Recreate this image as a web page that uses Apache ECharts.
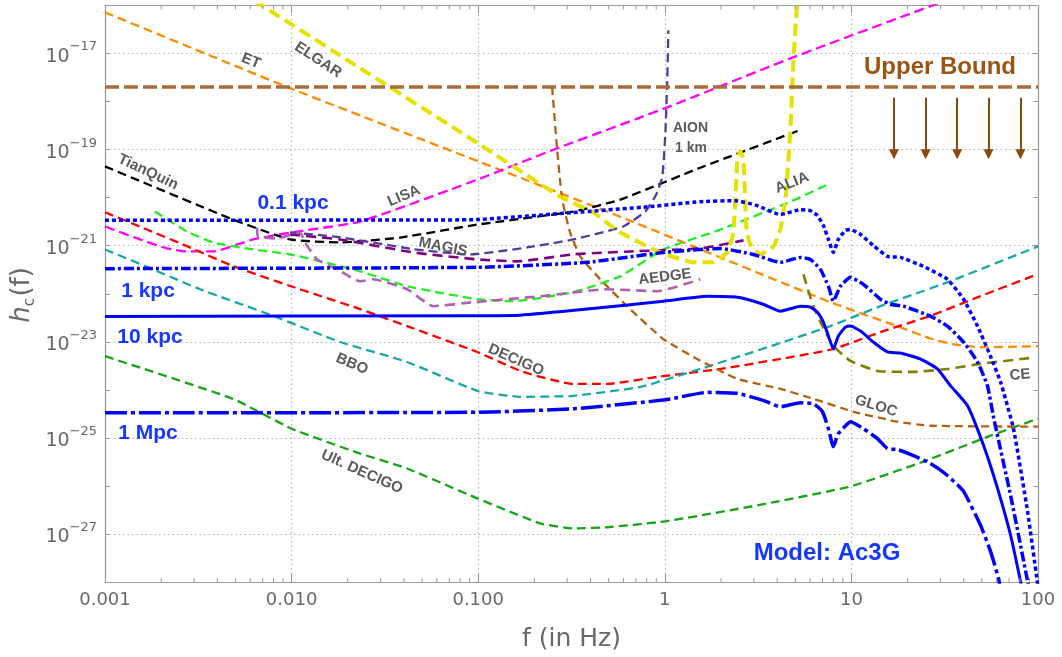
<!DOCTYPE html>
<html><head><meta charset="utf-8">
<script src="https://cdn.jsdelivr.net/npm/echarts@6/dist/echarts.min.js"></script>
<style>html,body{margin:0;padding:0;background:#fff}#c{width:1062px;height:657px}</style>
</head><body><div id="c"></div><script>
// ---------- data (f in Hz, h_c) ----------
const X_TICK_LABELS = ['0.001','0.010','0.100','1','10','100'];
const Y_LABEL_EXPONENTS = [-27,-25,-23,-21,-19,-17];
const UPPER_BOUND = [[0.001,2e-18],[100,2e-18]];
const ARROW_F = [16.9,25,36.9,54.3,80.5];
const ARROW_H = [1.2e-18,8e-20];

const ET = [[0.001,7.2e-17],[0.0095,2.0e-18],[0.131,3.8e-20],[0.63,3.5e-21],[7.7,6.7e-23],[17.7,2.1e-23],[26.5,1.17e-23],[35,8.9e-24],[49,7.7e-24],[100,8.1e-24]];
const ELGAR = [[6.32e-3,1.26e-16],[0.0233,4.95e-18],[0.0989,1.38e-19],[0.275,1.05e-20],[0.414,4.9e-21],[0.577,1.88e-21],[0.946,7.24e-22],[1.42,4.5e-22],[1.82,4.5e-22],[2.16,7.24e-22],[2.33,1.88e-21],[2.45,6.2e-20],[2.54,9.4e-20],[2.64,6.2e-20],[2.74,2.19e-21],[2.87,1.07e-21],[3.25,6.6e-22],[3.82,9.66e-22],[4.16,2.17e-21],[4.43,9.1e-21],[4.71,2.57e-19],[4.89,7.24e-18],[5.13,1.26e-16]];
const LISA = [[0.001,2.51e-21],[1.54e-3,1.35e-21],[2.15e-3,8.77e-22],[2.75e-3,7.6e-22],[3.79e-3,7.6e-22],[6.22e-3,1.35e-21],[9.82e-3,1.88e-21],[0.0233,3.18e-21],[0.0989,2.37e-20],[0.252,9.9e-20],[1.007,7.33e-19],[4.71,7.94e-18],[31.8,1.26e-16]];
const TIANQIN = [[0.001,4.47e-20],[4.85e-3,3.51e-21],[9.82e-3,1.35e-21],[0.0182,1.17e-21],[0.0382,1.48e-21],[0.0989,2.75e-21],[0.323,5.13e-21],[0.577,9.12e-21],[1.55,4.2e-20],[5.33,2.57e-19]];
const DECIGO = [[0.001,4.97e-21],[1.68e-3,2.17e-21],[2.75e-3,9.8e-22],[4.85e-3,3.77e-22],[9.82e-3,1.45e-22],[0.0233,4.79e-23],[0.0416,2.12e-23],[0.0989,6.12e-24],[0.174,2.36e-24],[0.323,1.33e-24],[0.492,1.33e-24],[0.912,1.86e-24],[1.99,2.72e-24],[4.16,4.39e-24],[8.0,7.08e-24],[14.3,1.59e-23],[26.5,3.47e-23],[49.2,8.91e-23],[100,2.57e-22]];
const BBO = [[0.001,8.36e-22],[1.81e-3,3.21e-22],[3.23e-3,1.24e-22],[7.96e-3,3.47e-23],[0.0182,9.89e-24],[0.0416,3.8e-24],[0.0989,9.55e-25],[0.168,7.16e-25],[0.323,7.5e-25],[0.74,1.15e-24],[1.55,2.72e-24],[4.16,9.42e-24],[7.71,2.12e-23],[14.3,5.51e-23],[32.7,1.73e-22],[100,9.66e-22]];
const ULT_DECIGO = [[0.001,5.01e-24],[4.85e-3,6.5e-25],[0.01,1.55e-25],[0.0233,4.71e-26],[0.0416,2.3e-26],[0.0989,5.5e-27],[0.215,1.66e-27],[0.323,1.31e-27],[0.492,1.38e-27],[1.007,1.83e-27],[3.13,3.94e-27],[9.89,9.77e-27],[24.3,3.21e-26],[55.6,1.11e-25],[100,2.51e-25]];
const GLOC = [[0.249,2.0e-18],[0.265,9.86e-20],[0.282,9.12e-21],[0.311,1.88e-21],[0.352,6.03e-22],[0.451,2.0e-22],[0.653,4.76e-23],[0.982,1.14e-23],[1.49,4.39e-24],[2.45,1.69e-24],[4.16,1.05e-24],[6.25,6.5e-25],[10.3,3.49e-25],[17.7,2.17e-25],[26.5,1.79e-25],[100,1.71e-25]];
const CE = [[5.53,2.54e-22],[6.25,5.51e-23],[7.0,2.12e-23],[8.0,8.17e-24],[9.89,3.99e-24],[13.8,2.47e-24],[21.5,2.36e-24],[32.7,2.72e-24],[49.2,3.47e-24],[91.2,4.6e-24]];
const ALIA = [[1.85e-3,5.13e-21],[2.75e-3,1.98e-21],[3.79e-3,1.17e-21],[6.22e-3,8.38e-22],[9.82e-3,6.61e-22],[0.0167,4.09e-22],[0.0233,2.93e-22],[0.0416,1.43e-22],[0.0989,7.69e-23],[0.154,7.0e-23],[0.323,1.08e-22],[0.577,2.3e-22],[0.982,8.36e-22],[1.99,2.17e-21],[4.71,8.26e-21],[7.43,1.86e-20]];
const MAGIS = [[9.82e-3,1.71e-21],[0.0182,1.35e-21],[0.0448,7.24e-22],[0.0989,5.19e-22],[0.162,4.72e-22],[0.323,6.61e-22],[0.653,7.6e-22],[1.55,8.77e-22],[2.64,1.29e-21]];
const AION = [[0.0098,1.9e-21],[0.0182,1.5e-21],[0.0448,8.5e-22],[0.0906,6.58e-22],[0.183,9.2e-22],[0.323,1.35e-21],[0.598,2.51e-21],[0.785,5.13e-21],[0.9,1.16e-20],[0.97,2.73e-20],[1.007,2.24e-19],[1.03,2.42e-18],[1.045,3.04e-17]];
const AEDGE = [[6.53e-3,2.39e-21],[6.61e-3,1.56e-21],[8.36e-3,1.42e-21],[0.0111,1.88e-21],[0.0118,1.17e-21],[0.0137,5.19e-22],[0.0175,3.22e-22],[0.0233,1.82e-22],[0.0274,2.0e-22],[0.0416,1.24e-22],[0.0574,5.51e-23],[0.094,6.67e-23],[0.215,8.87e-23],[0.492,1.24e-22],[0.912,1.13e-22],[1.55,2.0e-22]];

const AC3G_01KPC = [[0.001,3.39e-21],[0.0382,3.42e-21],[0.0989,3.5e-21],[0.323,4.9e-21],[0.836,6.52e-21],[1.55,8.26e-21],[2.39,8.67e-21],[3.13,6.83e-21],[4.16,4.45e-21],[5.33,5.64e-21],[6.03,5.38e-21],[6.58,4.24e-21],[7.08,2.63e-21],[7.53,1.35e-21],[8.0,7.24e-22],[8.51,1.35e-21],[9.29,2.07e-21],[9.89,2.17e-21],[11.2,1.71e-21],[13.1,1.01e-21],[15.6,6.0e-22],[18.3,5.71e-22],[24.3,3.72e-22],[32.7,2.0e-22],[39.9,7.67e-23],[47.4,2.12e-23],[55.6,5.06e-24],[63.0,1.46e-24],[73.9,1.55e-25],[87.9,2.95e-27],[100,7.9e-29]];
const AC3G_1KPC = [[0.001,3.33e-22],[0.0989,3.55e-22],[0.384,4.5e-22],[0.982,7.24e-22],[1.99,8.77e-22],[2.98,6.58e-22],[4.16,4.5e-22],[5.33,5.71e-22],[6.03,5.19e-22],[6.82,3.22e-22],[7.53,1.43e-22],[8.0,7.0e-23],[8.73,1.43e-22],[9.89,2.2e-22],[11.6,1.57e-22],[14.3,7.69e-23],[16.2,6.05e-23],[19.0,5.51e-23],[26.5,3.42e-23],[32.7,2.12e-23],[39.9,9.89e-24],[47.4,3.8e-24],[53.6,1.21e-24],[57.7,2.75e-25],[71.3,6.34e-27],[87.9,1.05e-28],[91.2,4.7e-29]];
const AC3G_10KPC = [[0.001,3.37e-23],[0.0989,3.5e-23],[0.168,3.58e-23],[0.384,4.79e-23],[0.982,7.0e-23],[1.69,8.87e-23],[2.45,8.45e-23],[3.37,6.05e-23],[4.16,4.34e-23],[5.33,5.51e-23],[6.03,5.25e-23],[6.58,4.13e-23],[7.08,2.57e-23],[7.53,1.32e-23],[8.0,7.08e-24],[8.51,1.32e-23],[9.29,2.02e-23],[9.89,2.12e-23],[11.2,1.67e-23],[13.1,9.89e-24],[15.6,6.14e-24],[18.3,5.85e-24],[23.4,4.39e-24],[28.9,2.72e-24],[34.0,1.21e-24],[41.9,4.67e-25],[51.1,6.92e-26],[60.7,8.87e-27],[71.3,9.4e-28],[80.5,1.05e-28],[83.6,4.7e-29]];
const AC3G_1MPC = [[0.001,3.33e-25],[0.0989,3.41e-25],[0.323,4.04e-25],[1.007,6.2e-25],[1.69,8.87e-25],[2.45,8.45e-25],[3.37,6.05e-25],[4.16,4.44e-25],[5.33,5.37e-25],[6.25,5.13e-25],[7.0,3.5e-25],[7.53,1.55e-25],[8.0,6.58e-26],[8.51,1.22e-25],[9.53,1.97e-25],[9.89,2.17e-25],[11.6,1.55e-25],[13.8,9.64e-26],[15.6,5.98e-26],[17.7,5.71e-26],[21.5,4.29e-26],[26.5,2.92e-26],[32.7,1.65e-26],[39.9,7.69e-27],[49.2,1.52e-27],[55.6,4.4e-28],[61.4,1.21e-28],[63.0,6.8e-29]];

// ---------- helpers ----------
const X_MIN=-3, X_MAX=2, Y_MIN=-28, Y_MAX=-16;
const lg = v => Math.log10(v);
const toLog = pts => pts.map(([f,h]) => [lg(f), lg(h)]);
const FONT = '"Liberation Sans", Arial, Helvetica, sans-serif';
const AXFONT = '"DejaVu Sans", sans-serif';
const AXIS_COLOR = '#9a9a9a';
const TEXT_COLOR = '#686868';
const LABEL_GRAY = '#5a5a5a';
const BLUE = '#0000ff';
const BLUE_TEXT = '#1438ff';

function curve(name, pts, color, width, type, extra) {
  return Object.assign({
    name, type: 'line', data: toLog(pts), showSymbol: false, symbol: 'none',
    smooth: 0.15, silent: true, animation: false, z: 3,
    lineStyle: { color, width, type, cap: 'butt', join: 'round' }
  }, extra || {});
}

// minor x ticks at 2..9 x decade
const MINOR_X = [];
for (let d = X_MIN; d < X_MAX; d++) for (let k = 2; k <= 9; k++) MINOR_X.push(d + Math.log10(k));

const xLabelMap = {}; X_TICK_LABELS.forEach((t,i)=>{ xLabelMap[X_MIN+i] = t; });

const series = [
  curve('Upper Bound', UPPER_BOUND, '#a86c3a', 3.5, [14,5], {smooth:false, z:4,
    markLine: { silent: true, animation: false, symbol: ['none','triangle'], symbolSize: [10, 10],
      lineStyle: { color: '#8b4a0c', width: 2, type: 'solid' }, label: { show: false },
      data: ARROW_F.map(f => [{coord: [lg(f), lg(ARROW_H[0])]}, {coord: [lg(f), lg(ARROW_H[1])]}]) }}),
  curve('ET', ET, '#ff8a00', 2.3, [9,5]),
  curve('LISA', LISA, '#ff00ff', 2.3, [10,5]),
  curve('TianQuin', TIANQIN, '#000000', 2.3, [9,5]),
  curve('DECIGO', DECIGO, '#ff0000', 2.3, [9,5]),
  curve('BBO', BBO, '#18a8a8', 2.3, [9,5]),
  curve('Ult. DECIGO', ULT_DECIGO, '#16a316', 2.3, [9,5]),
  curve('GLOC', GLOC, '#b3600f', 2.3, [8,5]),
  curve('CE', CE, '#808000', 2.6, [10,6]),
  curve('ALIA', ALIA, '#22ee22', 2.3, [9,5]),
  curve('MAGIS', MAGIS, '#800080', 2.6, [10,6]),
  curve('AION', AION, '#553c9a', 2.3, [9,5]),
  curve('AEDGE', AEDGE, '#b060b0', 2.6, [10,6]),
  curve('ELGAR', ELGAR, '#e6e200', 4, [12,6], {smooth: 0.12}),
  curve('0.1 kpc', AC3G_01KPC, BLUE, 3.5, [4,3], {z:5}),
  curve('1 kpc', AC3G_1KPC, BLUE, 3.5, [10,3,3,3], {z:5}),
  curve('10 kpc', AC3G_10KPC, BLUE, 3, 'solid', {z:5}),
  curve('1 Mpc', AC3G_1MPC, BLUE, 3.5, [22,4,4,4], {z:5}),
  { type: 'custom', silent: true, clip: false, z: 6, animation: false,
    data: MINOR_X.map(v => [v, Y_MIN]),
    renderItem(params, api) {
      const x = api.value(0);
      const b = api.coord([x, Y_MIN]), t = api.coord([x, Y_MAX]);
      return { type: 'group', children: [
        { type: 'line', shape: {x1: b[0], y1: b[1], x2: b[0], y2: b[1]-4}, style: {stroke: AXIS_COLOR, lineWidth: 1} },
        { type: 'line', shape: {x1: t[0], y1: t[1], x2: t[0], y2: t[1]+4}, style: {stroke: AXIS_COLOR, lineWidth: 1} }
      ]};
    } }
];

// text annotations (pixel placement)
const GRAY_LABELS = [
  {t:'ET', x:251, y:61, r:-0.39},
  {t:'ELGAR', x:318, y:60, r:-0.58},
  {t:'TianQuin', x:148, y:172, r:-0.44},
  {t:'LISA', x:404, y:196, r:0.40},
  {t:'ALIA', x:792, y:183, r:0.38},
  {t:'MAGIS', x:443, y:247, r:-0.2},
  {t:'AEDGE', x:665, y:277, r:0.12},
  {t:'DECIGO', x:516, y:360, r:-0.41},
  {t:'BBO', x:352, y:364, r:-0.4},
  {t:'Ult. DECIGO', x:362, y:472, r:-0.42},
  {t:'GLOC', x:876, y:406, r:-0.3},
  {t:'CE', x:1020, y:375, r:0.08}
];
const BLUE_LABELS = [
  {t:'0.1 kpc', x:293, y:203, s:21},
  {t:'1 kpc', x:148, y:291, s:21},
  {t:'10 kpc', x:150, y:337, s:21},
  {t:'1 Mpc', x:148, y:433, s:21},
  {t:'Model: Ac3G', x:827, y:553, s:24}
];
const graphic = [];
GRAY_LABELS.forEach(l => graphic.push({ type:'text', x:l.x, y:l.y, rotation:l.r, z:20, silent:true,
  style:{ text:l.t, fill:LABEL_GRAY, font:'bold 15px '+FONT, align:'center', verticalAlign:'middle', textAlign:'center', textVerticalAlign:'middle' }}));
BLUE_LABELS.forEach(l => graphic.push({ type:'text', x:l.x, y:l.y, z:20, silent:true,
  style:{ text:l.t, fill:BLUE_TEXT, font:'bold '+l.s+'px '+FONT, align:'center', verticalAlign:'middle', textAlign:'center', textVerticalAlign:'middle' }}));
graphic.push({ type:'text', x:673, y:128, z:20, silent:true,
  style:{ text:'AION', fill:LABEL_GRAY, font:'bold 14px '+FONT, align:'left', verticalAlign:'middle', textAlign:'left', textVerticalAlign:'middle' }});
graphic.push({ type:'text', x:675, y:148, z:20, silent:true,
  style:{ text:'1 km', fill:LABEL_GRAY, font:'bold 14px '+FONT, align:'left', verticalAlign:'middle', textAlign:'left', textVerticalAlign:'middle' }});
graphic.push({ type:'text', x:940, y:67, z:20, silent:true,
  style:{ text:'Upper Bound', fill:'#9a5512', font:'bold 24px '+FONT, align:'center', verticalAlign:'middle', textAlign:'center', textVerticalAlign:'middle' }});
graphic.push({ type:'text', x:22, y:295, rotation:Math.PI/2, z:20, silent:true,
  style:{ text:'{i|h}{sub|c}{n|(f)}', align:'center', verticalAlign:'middle', textAlign:'center', textVerticalAlign:'middle',
    rich:{ i:{font:'oblique 26px '+AXFONT, fill:TEXT_COLOR, lineHeight:32, verticalAlign:'middle'},
           sub:{font:'16px '+AXFONT, fill:TEXT_COLOR, lineHeight:32, verticalAlign:'bottom', padding:[0,1,0,0]},
           n:{font:'26px '+AXFONT, fill:TEXT_COLOR, lineHeight:32, verticalAlign:'middle'} } }});

const axisCommon = {
  type: 'value', min: X_MIN, max: X_MAX, interval: 1,
  axisLine: { show: true, onZero: false, lineStyle: { color: AXIS_COLOR, width: 1.2 } },
  axisTick: { show: true, inside: true, length: 8, lineStyle: { color: AXIS_COLOR } }
};

const option = {
  animation: false,
  backgroundColor: '#ffffff',
  grid: { left: 105, right: 24, top: 5.5, bottom: 73.5, containLabel: false },
  xAxis: [
    Object.assign({}, axisCommon, { position: 'bottom',
      name: 'f (in Hz)', nameLocation: 'middle', nameGap: 45,
      nameTextStyle: { fontSize: 25, color: TEXT_COLOR, fontFamily: AXFONT },
      axisLabel: { show: true, margin: 9, fontSize: 18, color: TEXT_COLOR, fontFamily: AXFONT, showMinLabel: true, showMaxLabel: true, hideOverlap: false,
        formatter: v => xLabelMap[Math.round(v)] || '' },
      splitLine: { show: true, lineStyle: { color: '#b4b4b4', width: 1.2, type: [1.5, 3] } } }),
    Object.assign({}, axisCommon, { position: 'top', axisLabel: { show: false }, splitLine: { show: false } })
  ],
  yAxis: [
    { type: 'value', min: Y_MIN, max: Y_MAX, interval: 1, position: 'left',
      axisLine: { show: true, onZero: false, lineStyle: { color: AXIS_COLOR, width: 1.2 } },
      axisTick: { show: true, inside: true, length: 5, lineStyle: { color: AXIS_COLOR } },
      axisLabel: { show: true, margin: 8, fontFamily: AXFONT, color: TEXT_COLOR, showMinLabel: true, showMaxLabel: true, hideOverlap: false,
        formatter: v => Y_LABEL_EXPONENTS.indexOf(Math.round(v)) >= 0 ? '{b|10}{s|\u2212' + Math.abs(Math.round(v)) + '}' : '',
        rich: { b: { fontSize: 19, color: TEXT_COLOR, fontFamily: AXFONT, lineHeight: 26, verticalAlign: 'bottom' },
                s: { fontSize: 13, color: TEXT_COLOR, fontFamily: AXFONT, lineHeight: 12, verticalAlign: 'top' } } },
      splitLine: { show: true, lineStyle: { color: ['rgba(0,0,0,0)', '#b4b4b4'], width: 1.2, type: [1.5, 3] } } },
    { type: 'value', min: Y_MIN, max: Y_MAX, interval: 1, position: 'right',
      axisLine: { show: true, onZero: false, lineStyle: { color: AXIS_COLOR, width: 1.2 } },
      axisTick: { show: true, inside: true, length: 5, lineStyle: { color: AXIS_COLOR } },
      axisLabel: { show: false }, splitLine: { show: false } }
  ],
  graphic,
  series
};

const chart = echarts.init(document.getElementById('c'), null, { renderer: 'canvas' });
chart.setOption(option);
</script></body></html>
